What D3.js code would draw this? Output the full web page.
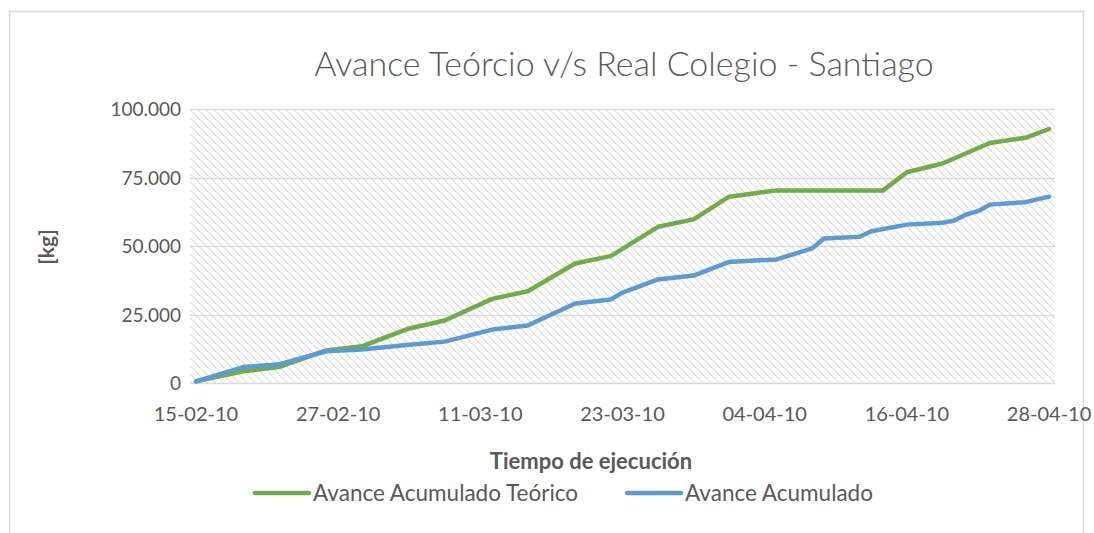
<!DOCTYPE html>
<html>
<head>
<meta charset="utf-8">
<script src="https://cdn.jsdelivr.net/npm/d3@7"></script>
<style>
  html, body { margin: 0; padding: 0; background: #fff; }
  svg { display: block; }
</style>
</head>
<body>
<div id="chart"></div>
<script>
// fechas y avances acumulados [kg]
var teoricoFechas = ["2010-02-15", "2010-02-19", "2010-02-22", "2010-02-26", "2010-03-01", "2010-03-05",
    "2010-03-08", "2010-03-12", "2010-03-15", "2010-03-19", "2010-03-22", "2010-03-26", "2010-03-29",
    "2010-04-01", "2010-04-05", "2010-04-14", "2010-04-16", "2010-04-19", "2010-04-23", "2010-04-26", "2010-04-28"];
var teoricoValores = [600, 4300, 5800, 11900, 13400, 19900, 22800, 30700, 33500, 43600, 46300, 57000, 59700,
    68000, 70300, 70300, 76900, 80100, 87600, 89500, 92700];

var realFechas = ["2010-02-15", "2010-02-19", "2010-02-22", "2010-02-26", "2010-03-01", "2010-03-05",
    "2010-03-08", "2010-03-12", "2010-03-15", "2010-03-19", "2010-03-22", "2010-03-23", "2010-03-26",
    "2010-03-29", "2010-04-01", "2010-04-05", "2010-04-08", "2010-04-09", "2010-04-12", "2010-04-13",
    "2010-04-16", "2010-04-19", "2010-04-20", "2010-04-21", "2010-04-22", "2010-04-23", "2010-04-26", "2010-04-28"];
var realValores = [600, 5800, 6800, 11600, 12200, 14000, 15100, 19500, 21000, 29000, 30500, 33000, 37800,
    39200, 44200, 45100, 49100, 52700, 53400, 55400, 57800, 58500, 59300, 61500, 62700, 65100, 66000, 68000];

var xTicks = ["2010-02-15", "2010-02-27", "2010-03-11", "2010-03-23", "2010-04-04", "2010-04-16", "2010-04-28"];
var yTicks = [0, 25000, 50000, 75000, 100000];

var seriesNames = ["Avance Acumulado Teórico", "Avance Acumulado"];
var colors = ["#70ad47", "#5b9bd5"];

var W = 1094, H = 533;
var plotL = 190, plotR = 1055, plotT = 109, plotB = 383;
var parse = d3.timeParse("%Y-%m-%d");
var halfDay = 12 * 3600 * 1000;

var x = d3.scaleTime()
    .domain([new Date(+parse(xTicks[0]) - halfDay), new Date(+parse(xTicks[xTicks.length - 1]) + halfDay)])
    .range([plotL, plotR]);
var y = d3.scaleLinear().domain([0, 100000]).range([plotB, plotT]);

var loc = d3.formatLocale({decimal: ",", thousands: ".", grouping: [3], currency: ["$", ""]});
var fmtY = loc.format(",.0f");
var fmtX = d3.timeFormat("%d-%m-%y");

var svg = d3.select("#chart").append("svg")
    .attr("width", W)
    .attr("height", H);

// patron de fondo
var pat = svg.append("defs").append("pattern")
    .attr("id", "hatch")
    .attr("patternUnits", "userSpaceOnUse")
    .attr("width", 8)
    .attr("height", 8);
pat.append("rect").attr("width", 8).attr("height", 8).attr("fill", "#fff");
d3.range(8).forEach(function (i) {
    pat.append("rect")
        .attr("x", i).attr("y", i)
        .attr("width", 2).attr("height", 1)
        .attr("fill", i % 2 ? "#dedede" : "#eaeaea");
});
pat.append("rect").attr("x", 0).attr("y", 7).attr("width", 1).attr("height", 1).attr("fill", "#eaeaea");

// marco
svg.append("rect")
    .attr("x", 9.5).attr("y", 11.5)
    .attr("width", 1074).attr("height", 600)
    .attr("fill", "#fff")
    .attr("stroke", "#d9d9d9")
    .attr("stroke-width", 1.5);

svg.append("rect")
    .attr("x", plotL).attr("y", plotT)
    .attr("width", plotR - plotL).attr("height", plotB - plotT)
    .attr("fill", "url(#hatch)")
    .attr("shape-rendering", "crispEdges");

var font = "Lato, 'Open Sans', sans-serif";

// grilla y eje y
var yAxis = svg.append("g");
yAxis.selectAll("line").data(yTicks).enter().append("line")
    .attr("x1", plotL).attr("x2", plotR)
    .attr("y1", function (d) { return Math.round(y(d)) + 0.5; })
    .attr("y2", function (d) { return Math.round(y(d)) + 0.5; })
    .attr("stroke", "#d9d9d9")
    .attr("stroke-width", 1.3);
yAxis.selectAll("text").data(yTicks).enter().append("text")
    .attr("x", 181)
    .attr("y", function (d) { return y(d) + 7; })
    .attr("text-anchor", "end")
    .style("font-family", font)
    .style("font-size", "19px")
    .attr("fill", "#595959")
    .text(function (d) { return fmtY(d); });

// eje x
svg.append("g").selectAll("text").data(xTicks).enter().append("text")
    .attr("x", function (d) { return x(parse(d)); })
    .attr("y", 421)
    .attr("text-anchor", "middle")
    .style("font-family", font)
    .style("font-size", "20px")
    .attr("fill", "#595959")
    .text(function (d) { return fmtX(parse(d)); });

// lineas
var line = d3.line()
    .x(function (d) { return x(d[0]); })
    .y(function (d) { return y(d[1]); });

var series = [
    d3.zip(teoricoFechas.map(parse), teoricoValores),
    d3.zip(realFechas.map(parse), realValores)
];

series.forEach(function (s, i) {
    svg.append("path")
        .datum(s)
        .attr("d", line)
        .attr("fill", "none")
        .attr("stroke", colors[i])
        .attr("stroke-width", 4.5)
        .attr("stroke-linejoin", "round")
        .attr("stroke-linecap", "round");
});

// titulos
svg.append("text")
    .attr("x", 624)
    .attr("y", 76)
    .attr("text-anchor", "middle")
    .style("font-family", font)
    .style("font-weight", 300)
    .style("font-size", "34px")
    .attr("fill", "#595959")
    .text("Avance Teórcio v/s Real Colegio - Santiago");

svg.append("text")
    .attr("x", 591)
    .attr("y", 469)
    .attr("text-anchor", "middle")
    .style("font-family", font)
    .style("font-weight", "bold")
    .style("font-size", "22px")
    .attr("fill", "#595959")
    .text("Tiempo de ejecución");

svg.append("text")
    .attr("transform", "translate(54,247) rotate(-90)")
    .attr("text-anchor", "middle")
    .style("font-family", font)
    .style("font-weight", "bold")
    .style("font-size", "21px")
    .attr("fill", "#595959")
    .text("[kg]");

// leyenda
var legX = [255, 627];
var leg = svg.append("g").selectAll("g").data(seriesNames).enter().append("g")
    .attr("transform", function (d, i) { return "translate(" + legX[i] + ",493)"; });
leg.append("line")
    .attr("x1", 0).attr("x2", 54)
    .attr("stroke", function (d, i) { return colors[i]; })
    .attr("stroke-width", 4.5)
    .attr("stroke-linecap", "round");
leg.append("text")
    .attr("x", 58)
    .attr("y", 8)
    .style("font-family", font)
    .style("font-size", "22.5px")
    .attr("fill", "#595959")
    .text(function (d) { return d; });
</script>
</body>
</html>
